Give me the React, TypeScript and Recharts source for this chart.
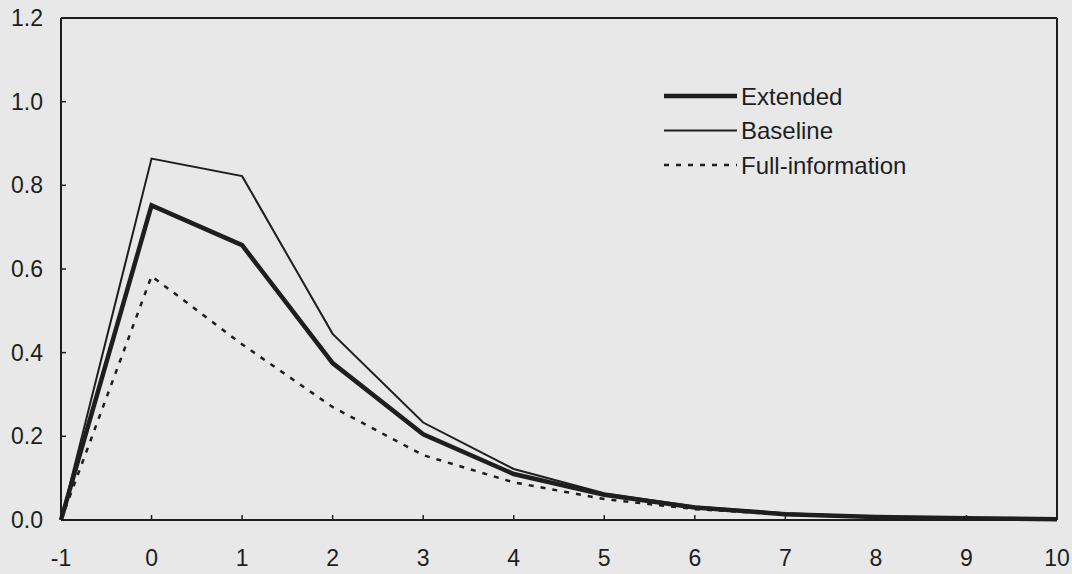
import React from 'react';
import { LineChart, Line, XAxis, YAxis, ReferenceLine } from 'recharts';

// horizons -1..10
const periods = [-1, 0, 1, 2, 3, 4, 5, 6, 7, 8, 9, 10];
const extended = [0, 0.752, 0.657, 0.375, 0.205, 0.11, 0.06, 0.03, 0.014, 0.007, 0.004, 0.002];
const baseline = [0, 0.864, 0.822, 0.445, 0.233, 0.122, 0.064, 0.032, 0.016, 0.008, 0.004, 0.002];
const fullInfo = [0, 0.583, 0.42, 0.27, 0.155, 0.09, 0.05, 0.026, 0.013, 0.006, 0.003, 0.0015];
const xTicks = [-1, 0, 1, 2, 3, 4, 5, 6, 7, 8, 9, 10];
const yTicks = [0, 0.2, 0.4, 0.6, 0.8, 1.0, 1.2];

const data = periods.map((p, i) => ({
  period: p,
  extended: extended[i],
  baseline: baseline[i],
  full: fullInfo[i],
}));

const FONT = '"Liberation Sans", Arial, sans-serif';
const INK = '#1e1e1e';

const XTick = (props: any) => {
  const { x, y, payload } = props;
  return (
    <g>
      <line x1={x} y1={y} x2={x} y2={y - 5} stroke={INK} strokeWidth={1.5} />
      <text x={x} y={y + 46} textAnchor="middle" fontSize={23} fontFamily={FONT} fill={INK}>
        {payload.value}
      </text>
    </g>
  );
};

const YTick = (props: any) => {
  const { x, y, payload } = props;
  return (
    <g>
      <line x1={x} y1={y} x2={x + 5} y2={y} stroke={INK} strokeWidth={1.5} />
      <text x={x - 18} y={y + 8} textAnchor="end" fontSize={23} fontFamily={FONT} fill={INK}>
        {Number(payload.value).toFixed(1)}
      </text>
    </g>
  );
};

const legendRows = [
  { label: 'Extended', width: 4.5, dash: undefined },
  { label: 'Baseline', width: 2, dash: undefined },
  { label: 'Full-information', width: 2.5, dash: '5 7' },
];

// legend drawn as an overlay so it does not take space from the plot
const LegendBox = () => (
  <svg width={300} height={110} style={{ position: 'absolute', left: 664, top: 80 }}>
    {legendRows.map((r, i) => (
      <g key={r.label}>
        <line
          x1={0}
          x2={73}
          y1={16 + i * 34.5}
          y2={16 + i * 34.5}
          stroke={INK}
          strokeWidth={r.width}
          strokeDasharray={r.dash}
        />
        <text x={77} y={16 + i * 34.5 + 8.5} fontSize={24} fontFamily={FONT} fill={INK}>
          {r.label}
        </text>
      </g>
    ))}
  </svg>
);

export default function App() {
  return (
    <div style={{ position: 'fixed', left: 0, top: 0, width: 1072, height: 574, background: '#e8e8e8' }}>
      <LineChart width={1072} height={574} data={data} margin={{ top: 18, right: 15, left: 6, bottom: 0 }}>
        <XAxis
          dataKey="period"
          type="number"
          domain={[-1, 10]}
          ticks={xTicks}
          tickSize={0}
          tickMargin={0}
          height={54}
          tick={<XTick />}
          axisLine={{ stroke: INK, strokeWidth: 2 }}
        />
        <YAxis
          type="number"
          domain={[0, 1.2]}
          ticks={yTicks}
          tickSize={0}
          tickMargin={0}
          width={55}
          tick={<YTick />}
          axisLine={{ stroke: INK, strokeWidth: 2 }}
        />
        <ReferenceLine y={1.2} stroke={INK} strokeWidth={2} />
        <ReferenceLine x={10} stroke={INK} strokeWidth={2} />
        <Line dataKey="full" stroke={INK} strokeWidth={2.5} strokeDasharray="5 7" dot={false} isAnimationActive={false} />
        <Line dataKey="baseline" stroke={INK} strokeWidth={2} dot={false} isAnimationActive={false} />
        <Line dataKey="extended" stroke={INK} strokeWidth={4.5} dot={false} isAnimationActive={false} />
      </LineChart>
      <LegendBox />
    </div>
  );
}
